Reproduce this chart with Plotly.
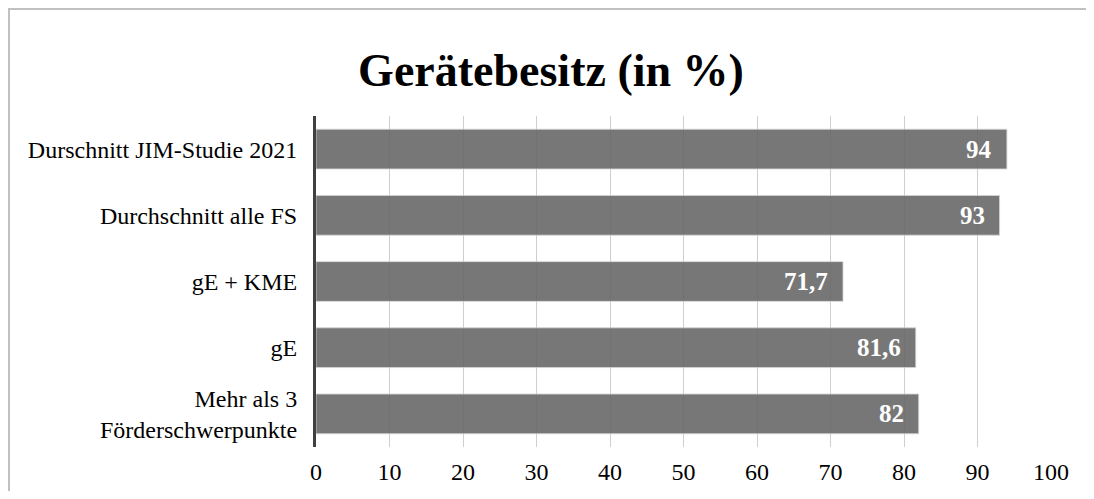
import plotly.graph_objects as go

categories = [
    "Durschnitt JIM-Studie 2021",
    "Durchschnitt alle FS",
    "gE + KME",
    "gE",
    "Mehr als 3<br>Förderschwerpunkte",
]
values = [94, 93, 71.7, 81.6, 82]
value_labels = ["94", "93", "71,7", "81,6", "82"]
x_ticks = [0, 10, 20, 30, 40, 50, 60, 70, 80, 90, 100]

W, H = 1086, 483
L, T = 308, 108
pw, ph = 735, 331
R, B = W - L - pw, H - T - ph

fig = go.Figure()
fig.add_trace(go.Bar(
    y=categories, x=values, orientation="h",
    marker=dict(color="rgb(105,105,105)", opacity=0.9,
                line=dict(color="rgba(210,210,210,0.8)", width=1)),
    width=0.6, hoverinfo="skip",
))

for c, v, t in zip(categories, values, value_labels):
    fig.add_annotation(x=v, y=c, text="<b>%s</b>" % t, showarrow=False,
                       xanchor="right", xshift=-13,
                       font=dict(family="Liberation Serif", size=25, color="white"))

# chart border (top and left edges of the chart area)
def px_x(p):
    return (p - L) / pw

def px_y(p):
    return (T + ph - p) / ph

fig.add_shape(type="line", xref="paper", yref="paper",
              x0=px_x(0), x1=px_x(W), y0=px_y(1), y1=px_y(1),
              line=dict(color="#c0c0c0", width=2), layer="below")
fig.add_shape(type="line", xref="paper", yref="paper",
              x0=px_x(1), x1=px_x(1), y0=px_y(0), y1=px_y(H),
              line=dict(color="#c0c0c0", width=2), layer="below")

fig.update_layout(
    width=W, height=H,
    margin=dict(l=L, r=R, t=T, b=B, autoexpand=False),
    paper_bgcolor="white", plot_bgcolor="white",
    showlegend=False,
    title=dict(text="<b>Gerätebesitz (in %)</b>", x=543 / W, xanchor="center",
               y=1 - 62 / H, yanchor="middle",
               font=dict(family="Liberation Serif", size=46, color="black")),
    xaxis=dict(range=[0, 100], tickvals=x_ticks, showgrid=True,
               gridcolor="#cfcfcf", gridwidth=1, zeroline=False,
               showline=False, ticks="", automargin=False,
               tickfont=dict(family="Liberation Serif", size=24, color="black"),
               ticklabelstandoff=8),
    yaxis=dict(categoryorder="array", categoryarray=categories,
               autorange="reversed", showline=True, linecolor="#404040",
               linewidth=3, ticks="", showgrid=False, automargin=False,
               tickfont=dict(family="Liberation Serif", size=24, color="black"),
               ticklabelstandoff=11),
)

fig.write_html("out.html")
